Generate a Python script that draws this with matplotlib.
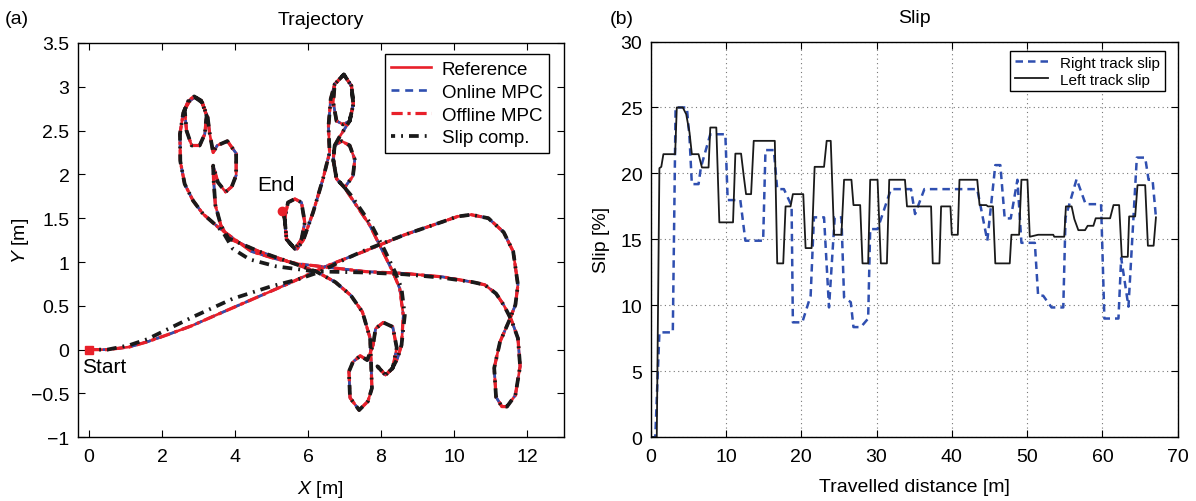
import matplotlib

matplotlib.use("Agg")
import matplotlib.pyplot as plt

plt.rcParams["font.family"] = ["Liberation Sans", "DejaVu Sans"]
plt.rcParams["mathtext.fontset"] = "custom"
plt.rcParams["mathtext.it"] = "Liberation Sans:italic"
plt.rcParams["mathtext.rm"] = "Liberation Sans"

# ---- (a) trajectory as (x, y) waypoints [m] ----
start_leg = [(0, 0), (0.5, 0.0), (1.10, 0.03), (1.6, 0.09), (2.15, 0.17), (2.8, 0.27),
             (3.40, 0.38), (4.45, 0.57), (5.5, 0.76), (6.54, 0.96), (7.59, 1.13),
             (8.64, 1.31), (9.69, 1.46), (10.1, 1.52), (10.47, 1.54)]
right_loop = [(10.94, 1.50), (11.36, 1.34), (11.62, 1.12), (11.75, 0.74), (11.68, 0.51),
              (11.52, 0.34), (11.26, 0.09), (11.1, -0.21), (11.15, -0.54), (11.31, -0.65),
              (11.45, -0.65), (11.68, -0.52), (11.81, -0.19), (11.75, 0.13), (11.57, 0.34),
              (11.36, 0.51), (11.15, 0.64), (10.84, 0.74), (10.52, 0.77)]
return_leg = [(9.69, 0.83), (8.64, 0.87), (7.59, 0.89), (6.54, 0.94), (5.71, 0.98),
              (5.08, 1.04), (4.45, 1.12), (3.82, 1.31)]
left_loops = [(3.53, 1.40), (3.12, 1.55), (2.85, 1.70), (2.62, 1.89), (2.50, 2.15),
              (2.49, 2.46), (2.58, 2.70), (2.72, 2.84), (2.88, 2.89), (3.08, 2.84),
              (3.22, 2.67), (3.17, 2.46), (3.03, 2.33), (2.81, 2.33), (2.67, 2.50),
              (2.62, 2.74), (2.76, 2.84), (2.90, 2.88), (3.10, 2.82), (3.25, 2.65),
              (3.30, 2.48), (3.40, 2.25), (3.51, 2.33), (3.79, 2.38), (4.03, 2.24),
              (4.03, 1.99), (3.91, 1.86), (3.74, 1.80), (3.53, 1.91), (3.40, 2.10),
              (3.41, 1.95), (3.46, 1.65), (3.61, 1.42), (3.82, 1.27)]
lower_leg = [(4.66, 1.12), (5.5, 1.0), (6.23, 0.89), (6.75, 0.77), (7.17, 0.62),
             (7.49, 0.43), (7.7, 0.13), (7.72, -0.08)]
lower_loops = [(7.75, -0.44), (7.64, -0.59), (7.4, -0.69), (7.15, -0.55), (7.12, -0.25),
               (7.23, -0.14), (7.43, -0.07), (7.62, -0.12), (7.78, 0.05), (7.85, 0.24),
               (8.06, 0.31), (8.32, 0.26), (8.43, 0.02), (8.32, -0.21), (8.12, -0.29),
               (7.9, -0.19), (8.12, -0.29), (8.3, -0.22), (8.45, -0.1), (8.56, 0.05)]
rise_leg = [(8.61, 0.39), (8.51, 0.70), (8.32, 0.89), (8.01, 1.15), (7.69, 1.42),
            (7.14, 1.76)]
upper_loops = [(7.0, 1.85), (6.78, 1.95), (6.69, 2.17), (6.73, 2.33), (6.92, 2.38),
               (7.14, 2.33), (7.28, 2.17), (7.23, 1.98), (7.0, 1.85), (6.78, 1.95),
               (6.69, 2.17), (6.73, 2.33), (6.85, 2.42), (7.14, 2.61), (7.24, 2.80),
               (7.19, 3.01), (6.98, 3.14), (6.73, 3.03), (6.69, 2.82), (6.78, 2.61),
               (6.96, 2.57), (7.14, 2.61), (7.24, 2.80), (7.19, 3.01), (6.98, 3.14),
               (6.73, 3.03)]
end_leg = [(6.62, 2.86), (6.56, 2.55), (6.59, 2.25), (6.41, 1.95), (6.14, 1.57),
           (5.87, 1.25), (5.70, 1.15), (5.64, 1.15), (5.41, 1.26), (5.36, 1.49),
           (5.45, 1.68), (5.64, 1.72), (5.82, 1.68), (5.91, 1.45), (5.82, 1.26),
           (5.64, 1.15), (5.41, 1.26), (5.36, 1.49), (5.30, 1.58)]

# slip-compensated run drifts off the reference on a few stretches
slip_start_leg = [(0, 0), (0.5, 0.0), (1.10, 0.05), (1.6, 0.12), (2.04, 0.21), (2.88, 0.38),
                  (3.93, 0.58), (4.97, 0.72), (5.71, 0.80), (6.34, 0.89), (7.0, 1.03),
                  (7.59, 1.14), (8.64, 1.31), (9.69, 1.46), (10.1, 1.52), (10.47, 1.54)]
slip_return_leg = [(9.69, 0.82), (8.64, 0.86), (7.59, 0.88), (6.54, 0.89), (6.05, 0.90),
                   (5.13, 0.95), (4.40, 1.03), (3.94, 1.15), (3.70, 1.32)]
slip_rise_leg = [(8.65, 0.39), (8.56, 0.70), (8.38, 0.89), (8.08, 1.15), (7.74, 1.42),
                 (7.18, 1.76)]

reference = (start_leg + right_loop + return_leg + left_loops + lower_leg + lower_loops
             + rise_leg + upper_loops + end_leg)
online_mpc = reference
offline_mpc = reference
slip_comp = (slip_start_leg + right_loop + slip_return_leg + left_loops + lower_leg
             + lower_loops + slip_rise_leg + upper_loops + end_leg)
start_pt = (0.0, 0.0)
end_pt = (5.28, 1.58)

# ---- (b) slip vs travelled distance, step vertices (distance [m], slip [%]) ----
right_slip_d = [0, 0.6, 1.15, 2.93, 3.3, 4.8, 5.15, 5.46, 6.35, 6.66, 7.91, 9.91, 10.22,
                11.9, 12.57, 14.93, 15.24, 16.35, 16.8, 17.69, 18.71, 18.88, 20.13, 21.24,
                21.68, 23.02, 23.68, 24.44, 25.33, 25.68, 26.57, 26.93, 27.91, 28.88,
                29.15, 30.13, 31.91, 34.57, 35.11, 36.35, 43.37, 44.71, 45.77, 46.44,
                47.02, 47.82, 48.71, 49.24, 51.02, 51.46, 52.13, 53.24, 54.8, 55.1,
                56.57, 57.77, 59.82, 60.26, 62.13, 62.49, 63.46, 64.57, 65.68, 66.13,
                66.66, 67.11]
right_slip = [0, 0, 7.95, 7.95, 25.0, 25.0, 22.7, 19.19, 19.19, 20.45, 22.97, 22.97,
              17.98, 17.98, 14.9, 14.9, 21.77, 21.77, 18.81, 18.81, 17.55, 8.71, 8.71,
              10.73, 16.67, 16.67, 9.84, 16.67, 16.67, 10.6, 10.24, 8.35, 8.35, 9.0,
              15.78, 15.78, 18.81, 18.81, 16.92, 18.81, 18.81, 14.9, 20.63, 20.63, 16.59,
              16.59, 19.52, 14.74, 14.74, 10.73, 10.73, 9.84, 9.84, 16.67, 19.57, 17.67,
              17.67, 9.0, 9.0, 13.6, 9.9, 21.2, 21.2, 19.52, 19.52, 16.67]

left_slip_d = [0, 0.8, 1.15, 1.4, 1.68, 3.24, 3.46, 4.26, 4.71, 5.15, 5.46, 6.35, 6.8,
               7.68, 7.91, 8.71, 9.11, 10.93, 11.24, 12.0, 12.35, 12.66, 13.33, 13.68,
               16.48, 16.8, 17.6, 17.91, 18.57, 18.88, 20.26, 20.57, 21.37, 21.77, 23.02,
               23.37, 23.91, 24.35, 25.33, 25.68, 26.66, 26.93, 27.82, 28.13, 28.88,
               29.15, 30.13, 30.57, 31.37, 31.68, 33.77, 34.04, 37.24, 37.46, 38.35,
               38.57, 39.81, 39.99, 40.79, 41.01, 43.37, 43.68, 44.57, 44.8, 45.46,
               45.77, 47.69, 47.91, 48.93, 49.24, 50.04, 50.35, 51.46, 53.47, 53.6,
               54.93, 55.15, 55.91, 56.27, 56.8, 57.69, 58.04, 58.8, 59.11, 61.02,
               61.47, 62.22, 62.57, 63.37, 63.55, 64.35, 64.66, 65.68, 66.04, 66.8, 67.11]
left_slip = [0, 0, 20.4, 20.5, 21.46, 21.46, 25.0, 25.0, 24.49, 23.1, 21.46, 21.46, 20.45,
             20.45, 23.48, 23.48, 16.29, 16.29, 21.5, 21.5, 19.82, 18.43, 18.43, 22.47,
             22.47, 13.18, 13.18, 17.5, 17.5, 18.43, 18.43, 14.34, 14.34, 20.5, 20.5,
             22.47, 22.47, 15.35, 15.35, 19.52, 19.52, 17.6, 17.6, 13.18, 13.18, 19.52,
             19.52, 13.18, 13.18, 19.52, 19.52, 17.5, 17.5, 13.18, 13.18, 17.5, 17.5,
             15.35, 15.35, 19.52, 19.52, 17.6, 17.6, 17.5, 17.5, 13.18, 13.18, 15.35,
             15.35, 19.52, 19.52, 15.2, 15.35, 15.35, 15.2, 15.2, 17.5, 17.5, 16.54,
             15.7, 15.7, 16.03, 16.03, 16.6, 16.6, 17.6, 17.6, 13.68, 13.68, 16.74,
             16.74, 19.11, 19.11, 14.52, 14.52, 16.67]

RED = "#e8202a"
BLUE = "#2f4fb0"


def xy(pts):
    return [p[0] for p in pts], [p[1] for p in pts]


fig = plt.figure(figsize=(11.96, 5.02), dpi=100)

# --- (a) trajectory ---
ax1 = fig.add_axes([0.065, 0.127, 0.4062, 0.7854])
ax1.plot(*xy(reference), color=RED, lw=1.9, label="Reference")
ax1.plot(*xy(online_mpc), color=BLUE, lw=1.9, ls=(0, (3, 2.2)), label="Online MPC")
ax1.plot(*xy(offline_mpc), color=RED, lw=2.3, ls=(0, (3.5, 1.5, 1, 1.5)),
         label="Offline MPC")
ax1.plot(*xy(slip_comp), color="#1a1a1a", lw=2.7, ls=(1.5, (2.6, 1.6, 0.5, 1.6)),
         label="Slip comp.")
ax1.plot([start_pt[0]], [start_pt[1]], marker="s", ms=6, color=RED, ls="none")
ax1.plot([end_pt[0]], [end_pt[1]], marker="o", ms=6, color=RED, ls="none")
ax1.text(-0.2, -0.08, "Start", fontsize=15, va="top", ha="left")
ax1.text(4.62, 1.78, "End", fontsize=15, va="bottom", ha="left")
ax1.set_xlim(-0.31, 13)
ax1.set_ylim(-1, 3.5)
ax1.set_xticks(range(0, 13, 2))
ax1.set_yticks([-1, -0.5, 0, 0.5, 1, 1.5, 2, 2.5, 3, 3.5])
ax1.set_yticklabels(["\u22121", "\u22120.5", "0", "0.5", "1", "1.5", "2", "2.5", "3", "3.5"])
ax1.set_xlabel("$X$ [m]", fontsize=14, labelpad=9)
ax1.set_ylabel("$Y$ [m]", fontsize=14, labelpad=0)
ax1.set_title("Trajectory", fontsize=14, pad=14)
ax1.legend(loc="upper right", fontsize=13.5, frameon=True, fancybox=False,
           edgecolor="black", framealpha=1, handlelength=2.1, handletextpad=0.6,
           borderpad=0.35, labelspacing=0.3, bbox_to_anchor=(0.99, 0.995))

# --- (b) slip ---
ax2 = fig.add_axes([0.5441, 0.127, 0.4406, 0.7883])
ax2.plot(right_slip_d, right_slip, color=BLUE, lw=1.8, ls=(0, (3, 2)),
         label="Right track slip")
ax2.plot(left_slip_d, left_slip, color="#1a1a1a", lw=1.3, label="Left track slip")
ax2.set_xlim(0, 70)
ax2.set_ylim(0, 30)
ax2.set_xticks(range(0, 71, 10))
ax2.set_yticks(range(0, 31, 5))
ax2.grid(True, ls=(0, (1, 3)), color="#777777", lw=0.8)
ax2.set_xlabel("Travelled distance [m]", fontsize=14, labelpad=9)
ax2.set_ylabel("Slip [%]", fontsize=14, labelpad=8)
ax2.set_title("Slip", fontsize=14, pad=14)
ax2.legend(loc="upper right", fontsize=11, frameon=True, fancybox=False,
           edgecolor="black", framealpha=1, handlelength=2.2, borderpad=0.3,
           labelspacing=0.2, bbox_to_anchor=(0.99, 0.995))

for ax in (ax1, ax2):
    ax.tick_params(direction="in", top=True, right=True, length=5, width=0.8,
                   labelsize=14)
    ax.tick_params(axis="x", pad=8)
    ax.tick_params(axis="y", pad=6)
    for sp in ax.spines.values():
        sp.set_linewidth(1.0)

fig.text(0.004, 0.952, "(a)", fontsize=14)
fig.text(0.510, 0.952, "(b)", fontsize=14)

fig.savefig("out.png", dpi=100)
